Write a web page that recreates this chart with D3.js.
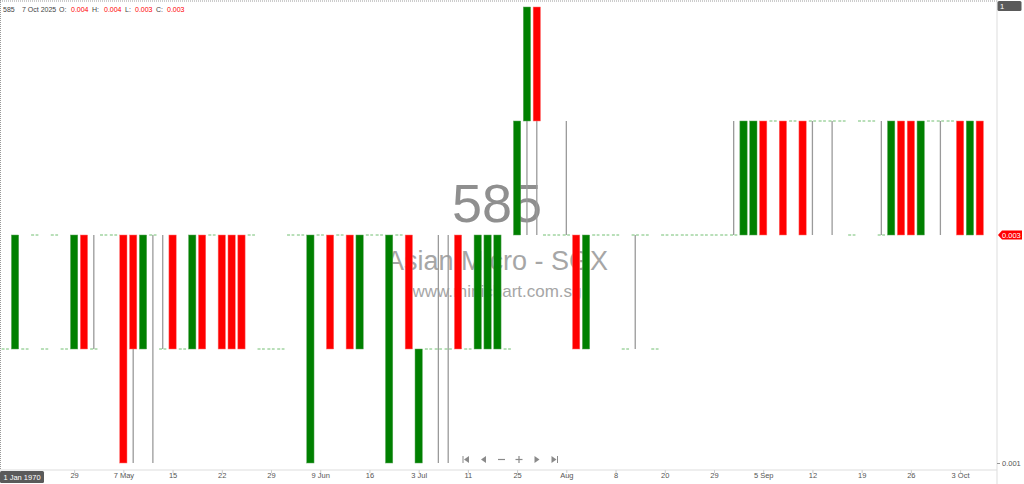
<!DOCTYPE html>
<html>
<head>
<meta charset="utf-8">
<script src="https://cdn.jsdelivr.net/npm/d3@7"></script>
<style>
  html, body { margin: 0; padding: 0; background: #fff; }
  svg { display: block; font-family: "Liberation Sans", Arial, sans-serif; }
</style>
</head>
<body>
<svg id="chart" width="1024" height="484"></svg>
<script>
// daily bars, oldest first (last bar = 7 Oct 2025)
const opens = [
  0.002, 0.002, 0.002, 0.003, 0.002, 0.003, 0.002, 0.002, 0.003, 0.002,
  0.003, 0.003, 0.003, 0.003, 0.002, 0.003, 0.002, 0.003, 0.002, 0.002,
  0.003, 0.003, 0.003, 0.003, 0.003, 0.003, 0.002, 0.002, 0.002, 0.003,
  0.003, 0.001, 0.003, 0.003, 0.003, 0.003, 0.002, 0.003, 0.003, 0.001,
  0.003, 0.003, 0.001, 0.002, 0.002, 0.002, 0.003, 0.002, 0.002, 0.002,
  0.002, 0.002, 0.003, 0.004, 0.005, 0.003, 0.003, 0.003, 0.003, 0.002,
  0.003, 0.003, 0.003, 0.002, 0.003, 0.003, 0.002, 0.003, 0.003, 0.003,
  0.003, 0.003, 0.003, 0.003, 0.003, 0.003, 0.003, 0.004, 0.004, 0.004,
  0.004, 0.004, 0.004, 0.004, 0.004, 0.004, 0.003, 0.004, 0.004, 0.003,
  0.003, 0.004, 0.004, 0.003, 0.004, 0.004, 0.004, 0.004, 0.003, 0.004
];
const highs = [
  0.002, 0.003, 0.002, 0.003, 0.002, 0.003, 0.002, 0.003, 0.003, 0.003,
  0.003, 0.003, 0.003, 0.003, 0.003, 0.003, 0.003, 0.003, 0.002, 0.003,
  0.003, 0.003, 0.003, 0.003, 0.003, 0.003, 0.002, 0.002, 0.002, 0.003,
  0.003, 0.003, 0.003, 0.003, 0.003, 0.003, 0.003, 0.003, 0.003, 0.003,
  0.003, 0.003, 0.002, 0.002, 0.003, 0.003, 0.003, 0.002, 0.003, 0.003,
  0.003, 0.002, 0.004, 0.005, 0.005, 0.003, 0.003, 0.004, 0.003, 0.003,
  0.003, 0.003, 0.003, 0.002, 0.003, 0.003, 0.002, 0.003, 0.003, 0.003,
  0.003, 0.003, 0.003, 0.003, 0.004, 0.004, 0.004, 0.004, 0.004, 0.004,
  0.004, 0.004, 0.004, 0.004, 0.004, 0.004, 0.003, 0.004, 0.004, 0.004,
  0.004, 0.004, 0.004, 0.004, 0.004, 0.004, 0.004, 0.004, 0.004, 0.004
];
const lows = [
  0.002, 0.002, 0.002, 0.003, 0.002, 0.003, 0.002, 0.002, 0.002, 0.002,
  0.003, 0.003, 0.001, 0.001, 0.002, 0.001, 0.002, 0.002, 0.002, 0.002,
  0.002, 0.003, 0.002, 0.002, 0.002, 0.003, 0.002, 0.002, 0.002, 0.003,
  0.003, 0.001, 0.003, 0.002, 0.003, 0.002, 0.002, 0.003, 0.003, 0.001,
  0.003, 0.002, 0.001, 0.002, 0.001, 0.001, 0.002, 0.002, 0.002, 0.002,
  0.002, 0.002, 0.003, 0.003, 0.003, 0.003, 0.003, 0.003, 0.002, 0.002,
  0.003, 0.003, 0.003, 0.002, 0.002, 0.003, 0.002, 0.003, 0.003, 0.003,
  0.003, 0.003, 0.003, 0.003, 0.003, 0.003, 0.003, 0.003, 0.004, 0.003,
  0.004, 0.003, 0.003, 0.004, 0.003, 0.004, 0.003, 0.004, 0.004, 0.003,
  0.003, 0.003, 0.003, 0.003, 0.004, 0.003, 0.004, 0.003, 0.003, 0.003
];
const closes = [
  0.002, 0.003, 0.002, 0.003, 0.002, 0.003, 0.002, 0.003, 0.002, 0.002,
  0.003, 0.003, 0.001, 0.002, 0.003, 0.003, 0.002, 0.002, 0.002, 0.003,
  0.002, 0.003, 0.002, 0.002, 0.002, 0.003, 0.002, 0.002, 0.002, 0.003,
  0.003, 0.003, 0.003, 0.002, 0.003, 0.002, 0.003, 0.003, 0.003, 0.003,
  0.003, 0.002, 0.002, 0.002, 0.002, 0.002, 0.002, 0.002, 0.003, 0.003,
  0.003, 0.002, 0.004, 0.005, 0.004, 0.003, 0.003, 0.003, 0.002, 0.003,
  0.003, 0.003, 0.003, 0.002, 0.003, 0.003, 0.002, 0.003, 0.003, 0.003,
  0.003, 0.003, 0.003, 0.003, 0.003, 0.004, 0.004, 0.003, 0.004, 0.003,
  0.004, 0.003, 0.004, 0.004, 0.004, 0.004, 0.003, 0.004, 0.004, 0.003,
  0.004, 0.003, 0.003, 0.004, 0.004, 0.004, 0.004, 0.003, 0.004, 0.003
];

// date labels shown under every 5th bar
const tickBars = [7, 12, 17, 22, 27, 32, 37, 42, 47, 52, 57, 62, 67, 72, 77, 82, 87, 92, 97];
const tickLabels = ['29', '7 May', '15', '22', '29', '9 Jun', '16', '3 Jul', '11', '25',
                    'Aug', '8', '20', '29', '5 Sep', '12', '19', '26', '3 Oct'];

const header = { code: '585', date: '7 Oct 2025', o: '0.004', h: '0.004', l: '0.003', c: '0.003' };
const lastPrice = 0.003;
const axisTopLabel = '1';
const axisBottomTick = 0.001;

const UP = '#008000', DOWN = '#ff0000', WICK = '#9a9a9a', FLAT = '#72bf72';

const svg = d3.select('#chart');
const plotRight = 997, plotBottom = 470;

const bars = opens.map((o, i) => ({ i, o, h: highs[i], l: lows[i], c: closes[i] }));

const x = d3.scaleLinear().domain([-0.53, 100.75]).range([0, plotRight]);
const y = d3.scaleLinear().domain([0.001, 0.005]).range([463, 7]);
const barW = (x(1) - x(0)) * 0.74;

svg.append('rect').attr('width', 1024).attr('height', 484).attr('fill', '#fff');

// watermark
const wm = svg.append('g').attr('text-anchor', 'middle');
wm.append('text').attr('x', 497).attr('y', 222).attr('font-size', 54).attr('fill', '#8f8f8f').text('585');
wm.append('text').attr('x', 497).attr('y', 270).attr('font-size', 27).attr('fill', '#a6a6a6').text('Asian Micro - SGX');
wm.append('text').attr('x', 497).attr('y', 297).attr('font-size', 17).attr('fill', '#a6a6a6').text('www.minichart.com.sg');

// frame
svg.append('line').attr('x1', 0).attr('x2', plotRight).attr('y1', 1).attr('y2', 1)
  .attr('stroke', '#999').attr('stroke-dasharray', '1,1');
svg.append('line').attr('x1', 0.5).attr('x2', 0.5).attr('y1', 0).attr('y2', plotBottom)
  .attr('stroke', '#999').attr('stroke-dasharray', '1,1');
svg.append('line').attr('x1', plotRight).attr('x2', plotRight).attr('y1', 0).attr('y2', 484)
  .attr('stroke', '#ddd');
svg.append('line').attr('x1', 0).attr('x2', plotRight).attr('y1', plotBottom).attr('y2', plotBottom)
  .attr('stroke', '#ddd');

// candles
const g = svg.append('g').attr('class', 'candles');

g.selectAll('.wick')
  .data(bars.filter(d => d.h > Math.max(d.o, d.c) || d.l < Math.min(d.o, d.c)))
  .join('line')
  .attr('class', 'wick')
  .attr('x1', d => x(d.i)).attr('x2', d => x(d.i))
  .attr('y1', d => y(d.h)).attr('y2', d => y(d.l))
  .attr('stroke', WICK).attr('stroke-width', 1.3);

g.selectAll('.flat')
  .data(bars.filter(d => d.o === d.c))
  .join('line')
  .attr('class', 'flat')
  .attr('x1', d => x(d.i) - barW / 2).attr('x2', d => x(d.i) + barW / 2)
  .attr('y1', d => y(d.o)).attr('y2', d => y(d.o))
  .attr('stroke', FLAT).attr('stroke-width', 1).attr('stroke-dasharray', '3,1.5');

g.selectAll('.body')
  .data(bars.filter(d => d.o !== d.c))
  .join('rect')
  .attr('class', 'body')
  .attr('x', d => x(d.i) - barW / 2)
  .attr('width', barW)
  .attr('y', d => y(Math.max(d.o, d.c)))
  .attr('height', d => y(Math.min(d.o, d.c)) - y(Math.max(d.o, d.c)))
  .attr('fill', d => d.c > d.o ? UP : DOWN)
  .attr('stroke', d => d.c > d.o ? '#5aa55a' : '#ff7070')
  .attr('stroke-width', 0.5);

// bottom axis
const xAxis = d3.axisBottom(x)
  .tickValues(tickBars)
  .tickFormat((d, k) => tickLabels[k])
  .tickSize(3)
  .tickSizeOuter(0);
const xg = svg.append('g').attr('transform', `translate(0,${plotBottom})`).call(xAxis);
xg.select('.domain').remove();
xg.selectAll('.tick line').attr('stroke', '#ccc');
xg.selectAll('.tick text').attr('fill', '#555').attr('font-size', 7.5)
  .attr('font-family', '"Liberation Sans", Arial, sans-serif').attr('dy', '0.55em').attr('y', 4);

// right axis
const yAxis = d3.axisRight(y).tickValues([axisBottomTick]).tickFormat(d3.format('.3f')).tickSize(3);
const yg = svg.append('g').attr('transform', `translate(${plotRight},0)`).call(yAxis);
yg.select('.domain').remove();
yg.selectAll('.tick line').attr('stroke', '#999');
yg.selectAll('.tick text').attr('fill', '#555').attr('font-size', 7.5)
  .attr('font-family', '"Liberation Sans", Arial, sans-serif').attr('x', 5);

// top axis label box
svg.append('rect').attr('x', 997.5).attr('y', 1).attr('width', 24).attr('height', 10)
  .attr('rx', 1.5).attr('fill', '#5a5a5a');
svg.append('text').attr('x', 1000).attr('y', 9).attr('font-size', 7.5).attr('fill', '#fff')
  .text(axisTopLabel);

// last price marker
const ly = y(lastPrice);
svg.append('path')
  .attr('d', `M998,${ly} L1002,${ly - 4.5} L1022,${ly - 4.5} L1022,${ly + 4.5} L1002,${ly + 4.5} Z`)
  .attr('fill', DOWN);
svg.append('text').attr('x', 1002).attr('y', ly + 2.7).attr('font-size', 7.5).attr('fill', '#fff')
  .text(d3.format('.3f')(lastPrice));

// date crosshair box
svg.append('rect').attr('x', 0).attr('y', 471).attr('width', 44).attr('height', 12)
  .attr('rx', 1.5).attr('fill', '#5a5a5a');
svg.append('text').attr('x', 22).attr('y', 480).attr('text-anchor', 'middle')
  .attr('font-size', 7.5).attr('fill', '#fff').text('1 Jan 1970');

// header line
const hd = svg.append('g').attr('font-size', 7).attr('font-family', '"Liberation Sans", Arial, sans-serif');
const parts = [
  [3, header.code, '#444'], [22, header.date, '#444'],
  [59, 'O:', '#444'], [71, header.o, DOWN],
  [92, 'H:', '#444'], [104, header.h, DOWN],
  [125, 'L:', '#444'], [135, header.l, DOWN],
  [156, 'C:', '#444'], [167, header.c, DOWN]
];
hd.selectAll('text').data(parts).join('text')
  .attr('x', d => d[0]).attr('y', 12).attr('fill', d => d[2]).text(d => d[1]);

// navigation buttons
const nav = svg.append('g').attr('fill', '#8a8a8a').attr('stroke', '#8a8a8a');
const ny = 459.5;
nav.append('rect').attr('x', 462.5).attr('y', ny - 3.5).attr('width', 1).attr('height', 7).attr('stroke', 'none');
nav.append('path').attr('d', `M469,${ny - 3.5} L464,${ny} L469,${ny + 3.5} Z`).attr('stroke', 'none');
nav.append('path').attr('d', `M486,${ny - 3.5} L481,${ny} L486,${ny + 3.5} Z`).attr('stroke', 'none');
nav.append('line').attr('x1', 498).attr('x2', 505).attr('y1', ny).attr('y2', ny).attr('stroke-width', 1.2);
nav.append('line').attr('x1', 515.5).attr('x2', 522.5).attr('y1', ny).attr('y2', ny).attr('stroke-width', 1.2);
nav.append('line').attr('x1', 519).attr('x2', 519).attr('y1', ny - 3.5).attr('y2', ny + 3.5).attr('stroke-width', 1.2);
nav.append('path').attr('d', `M534.5,${ny - 3.5} L539.5,${ny} L534.5,${ny + 3.5} Z`).attr('stroke', 'none');
nav.append('path').attr('d', `M551.5,${ny - 3.5} L556.5,${ny} L551.5,${ny + 3.5} Z`).attr('stroke', 'none');
nav.append('rect').attr('x', 557).attr('y', ny - 3.5).attr('width', 1).attr('height', 7).attr('stroke', 'none');
</script>
</body>
</html>
